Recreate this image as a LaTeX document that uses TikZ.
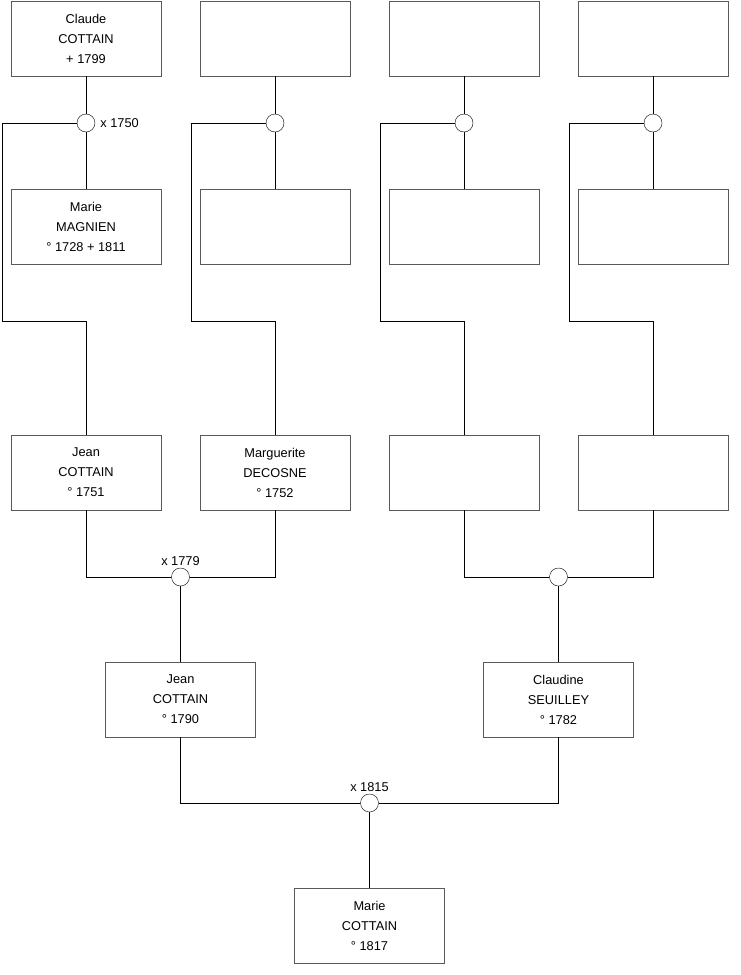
\documentclass[tikz,border=0pt]{standalone}
\usepackage{fontspec}
\setmainfont{Liberation Sans}
\usetikzlibrary{positioning}

\begin{document}
\begin{tikzpicture}[
  x=1pt, y=-1pt,
  font=\fontsize{12.8}{20}\selectfont,
  person/.style={draw=black!65, minimum width=150pt, minimum height=75pt, align=center, inner sep=0pt},
  union/.style={circle, draw=black, fill=white, minimum size=18pt, inner sep=0pt},
  wire/.style={draw=black, line width=0.8pt},
  datelabel/.style={inner sep=1pt}
]
\useasboundingbox (0,0) rectangle (740,975);

% --- Generation 1: fathers ---
\node[person] (f1) at (86, 38.5) {Claude \\ COTTAIN \\ + 1799};
\node[person] (f2) at (275, 38.5) {};
\node[person] (f3) at (464, 38.5) {};
\node[person] (f4) at (653, 38.5) {};

% --- Generation 1: mothers ---
\node[person] (w1) at (86, 227) {Marie \\ MAGNIEN \\ ° 1728 + 1811};
\node[person] (w2) at (275, 227) {};
\node[person] (w3) at (464, 227) {};
\node[person] (w4) at (653, 227) {};

% --- Generation 2 ---
\node[person] (g1) at (86, 472.5) {Jean \\ COTTAIN \\ ° 1751};
\node[person] (g2) at (275, 472.5) {Marguerite \\ DECOSNE \\ ° 1752};
\node[person] (g3) at (464, 472.5) {};
\node[person] (g4) at (653, 472.5) {};

% --- Generation 3 ---
\node[person] (h1) at (180.5, 699.5) {Jean \\ COTTAIN \\ ° 1790};
\node[person] (h2) at (558.5, 699.5) {Claudine \\ SEUILLEY \\ ° 1782};

% --- Generation 4 ---
\node[person] (child) at (369.5, 925.5) {Marie \\ COTTAIN \\ ° 1817};

% --- Marriages ---
\node[union] (m1) at (86, 123) {};
\node[union] (m2) at (275, 123) {};
\node[union] (m3) at (464, 123) {};
\node[union] (m4) at (653, 123) {};
\node[union] (m5) at (180.5, 577) {};
\node[union] (m6) at (558.5, 577) {};
\node[union] (m7) at (369.5, 803) {};

\node[datelabel, right=4pt of m1] (d1) {x 1750};
\node[datelabel, above=1pt of m5] (d5) {x 1779};
\node[datelabel, above=1pt of m7] (d7) {x 1815};

% --- Wires of the first generation ---
\coordinate (c1) at (2, 321);
\coordinate (c2) at (191, 321);
\coordinate (c3) at (380, 321);
\coordinate (c4) at (569, 321);
\foreach \i in {1,...,4} {
  \draw[wire] (f\i.south) -- (m\i.north);
  \draw[wire] (m\i.south) -- (w\i.north);
  \draw[wire] (m\i.west) -| (c\i) -| (g\i.north);
}

% --- Wires of the second generation ---
\draw[wire] (g1.south) |- (m5.west);
\draw[wire] (g2.south) |- (m5.east);
\draw[wire] (m5.south) -- (h1.north);
\draw[wire] (g3.south) |- (m6.west);
\draw[wire] (g4.south) |- (m6.east);
\draw[wire] (m6.south) -- (h2.north);

% --- Wires of the third generation ---
\draw[wire] (h1.south) |- (m7.west);
\draw[wire] (h2.south) |- (m7.east);
\draw[wire] (m7.south) -- (child.north);

\end{tikzpicture}
\end{document}
